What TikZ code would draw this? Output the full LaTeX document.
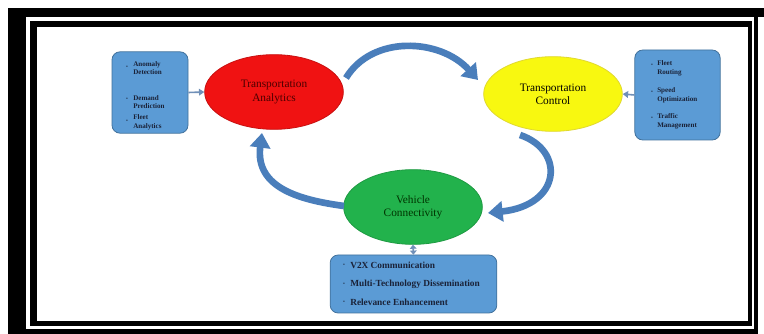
\documentclass[tikz,border=0pt]{standalone}
\usepackage{fontspec}
\setmainfont{Liberation Serif}
\usetikzlibrary{shapes.geometric,arrows.meta}
\definecolor{boxblue}{HTML}{5B9BD5}
\definecolor{boxedge}{HTML}{41719C}
\definecolor{arcblue}{HTML}{4A7EBB}
\definecolor{tipblue}{HTML}{7090B8}
\definecolor{redfill}{HTML}{F01212}
\definecolor{rededge}{HTML}{C81010}
\definecolor{yelfill}{HTML}{F8F810}
\definecolor{yeledge}{HTML}{E0D830}
\definecolor{grnfill}{HTML}{22B24C}
\definecolor{grnedge}{HTML}{1E9A42}
\definecolor{itemtext}{HTML}{1A2238}
\tikzset{
  hub/.style={ellipse, draw, line width=0.6pt, inner sep=0pt,
    minimum width=104pt, minimum height=56pt, align=center,
    font=\fontsize{8.5}{10}\selectfont},
  panel/.style={draw=boxedge, fill=boxblue, line width=0.6pt,
    rounded corners=6pt, inner sep=0pt},
  item/.style={anchor=west, align=left, text=itemtext,
    inner sep=0pt, font=\fontsize{5.3}{6.6}\selectfont\bfseries},
  wideitem/.style={anchor=west, text=itemtext, inner sep=0pt,
    font=\fontsize{7}{8}\selectfont\bfseries},
  dot/.style={inner sep=0pt, text=itemtext, font=\fontsize{4}{4}\selectfont},
  cyclearrow/.style={draw=arcblue, line width=5pt,
    -{Triangle[width=15pt,length=11pt]}},
  feed/.style={draw=tipblue, line width=1.2pt, -{Triangle[width=5pt,length=4pt]}},
  feedboth/.style={draw=tipblue, line width=1.2pt,
    {Triangle[width=5pt,length=3pt]}-{Triangle[width=5pt,length=3pt]}}
}
\begin{document}
\begin{tikzpicture}[x=0.75pt, y=-0.75pt]
\useasboundingbox (0,0) rectangle (764,334);

% double black frame
\fill[black] (8,8) rectangle (758,334);
\fill[black] (758,8) rectangle (764,17);
\fill[white] (26,17) rectangle (754,329);
\fill[black] (30,21) rectangle (752,326);
\fill[white] (37,27) rectangle (748,321);

% the three hubs
\node[hub, fill=redfill, draw=rededge, text=black!70!red] (ta) at (274,92)
  {Transportation\\Analytics};
\node[hub, fill=yelfill, draw=yeledge] (tc) at (553,94)
  {Transportation\\Control};
\node[hub, fill=grnfill, draw=grnedge, text=black!80!green] (vc) at (413,207)
  {Vehicle\\Connectivity};

% side panels
\node[panel, minimum width=57pt, minimum height=61pt] (lp) at (150,92.5) {};
\node[dot] (lb1) at (127,67) {\textbullet};
\node[item] (li1) at (133,68) {Anomaly\\Detection};
\node[dot] (lb2) at (127,99) {\textbullet};
\node[item] (li2) at (133,102) {Demand\\Prediction};
\node[dot] (lb3) at (127,121) {\textbullet};
\node[item] (li3) at (133,122) {Fleet\\Analytics};

\node[panel, minimum width=64pt, minimum height=67.5pt] (rp) at (677.5,95) {};
\node[dot] (rb1) at (652,65) {\textbullet};
\node[item] (ri1) at (657,68) {Fleet\\Routing};
\node[dot] (rb2) at (652,92) {\textbullet};
\node[item] (ri2) at (657,95) {Speed\\Optimization};
\node[dot] (rb3) at (652,118) {\textbullet};
\node[item] (ri3) at (657,121) {Traffic\\Management};

\node[panel, minimum width=125pt, minimum height=43.5pt] (bp) at (413.5,284) {};
\node[dot] (bb1) at (344,265) {\textbullet};
\node[wideitem] (bi1) at (350,265) {V2X Communication};
\node[dot] (bb2) at (344,284) {\textbullet};
\node[wideitem] (bi2) at (350,284) {Multi-Technology Dissemination};
\node[dot] (bb3) at (344,302) {\textbullet};
\node[wideitem] (bi3) at (350,302) {Relevance Enhancement};

% feeds from panels into hubs
\draw[feed] (lp.east) -- (ta.west);
\draw[feed] (rp.west) -- (tc.east);
\draw[feedboth] (bp.north) -- (vc.south);

% cycle arrows between hubs
\coordinate (a1s) at (346,78);
\coordinate (a1e) at (478,80);
\coordinate (a2s) at (520,135);
\coordinate (a2e) at (488,213);
\coordinate (a3s) at (344,206);
\coordinate (a3e) at (262,133);
\draw[cyclearrow] (a1s) .. controls (372,35) and (440,38) .. (a1e);
\draw[cyclearrow] (a2s) .. controls (565,150) and (562,205) .. (a2e);
\draw[cyclearrow] (a3s) .. controls (300,200) and (255,188) .. (a3e);
\end{tikzpicture}
\end{document}
